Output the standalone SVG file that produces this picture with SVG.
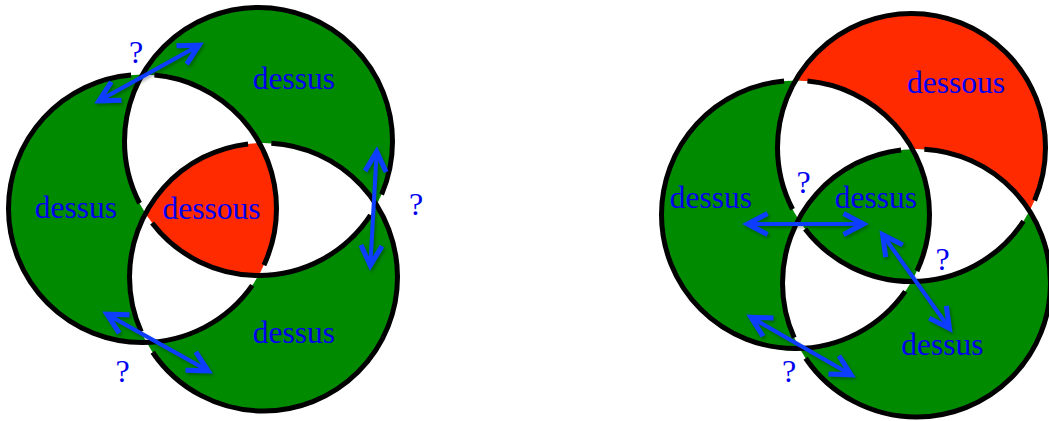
<svg xmlns="http://www.w3.org/2000/svg" xmlns:xlink="http://www.w3.org/1999/xlink" width="1049" height="421" viewBox="0 0 1049 421">
<style>
.g{fill:#008a00}
.r{fill:#ff2a00}
.w{fill:#ffffff}
.ring{fill:none;stroke:#000;stroke-width:5}
.rL{stroke-dasharray:58.47 23.39 537.91 23.39 200}
.rT{stroke-dasharray:54.45 23.39 255.44 23.39 487}
.rB{stroke-dasharray:340.92 23.39 251.39 23.39 204}
.lbl{font-family:"Liberation Serif","Times New Roman",serif;font-size:31.5px;fill:#0000f0;text-anchor:middle}
.q{font-family:"Liberation Serif","Times New Roman",serif;font-size:32px;fill:#0000f0;text-anchor:middle}
.arr{fill:none;stroke:#0a3cff;stroke-width:4;marker-start:url(#ah);marker-end:url(#ah)}
</style>
<defs>
<circle id="cL" cx="142.5" cy="208.5" r="134"/>
<circle id="cT" cx="258.5" cy="141.5" r="134"/>
<circle id="cB" cx="263.5" cy="277" r="134"/>
<clipPath id="clipL"><use xlink:href="#cL"/></clipPath>
<clipPath id="clipT"><use xlink:href="#cT"/></clipPath>
<clipPath id="clipB"><use xlink:href="#cB"/></clipPath>
<marker id="ah" markerUnits="userSpaceOnUse" orient="auto-start-reverse" overflow="visible" markerWidth="1" markerHeight="1" refX="0" refY="0">
<path d="M-20,-10.5 L0,0 L-20,10.5" fill="none" stroke="#0a3cff" stroke-width="5" stroke-linejoin="miter"/>
</marker>
<filter id="sh" x="-20%" y="-20%" width="140%" height="140%">
<feDropShadow dx="1.5" dy="2" stdDeviation="1.5" flood-color="#000" flood-opacity="0.3"/>
</filter>
</defs>
<rect width="1049" height="421" fill="#fff"/>

<g id="left-figure">
<g id="left-regions">
<use xlink:href="#cL" class="g"/>
<use xlink:href="#cT" class="g"/>
<use xlink:href="#cB" class="g"/>
<g clip-path="url(#clipL)"><use xlink:href="#cT" class="w"/><use xlink:href="#cB" class="w"/></g>
<g clip-path="url(#clipT)"><use xlink:href="#cB" class="w"/></g>
<g clip-path="url(#clipL)"><g clip-path="url(#clipT)"><use xlink:href="#cB" class="r"/></g></g>
</g>
<g id="left-ring-L"><use xlink:href="#cL" class="ring rL"/></g>
<g id="left-ring-T"><use xlink:href="#cT" class="ring rT"/></g>
<g id="left-ring-B"><use xlink:href="#cB" class="ring rB"/></g>
<g id="left-labels">
<text class="lbl" x="294" y="88.5">dessus</text>
<text class="lbl" x="76" y="217.5">dessus</text>
<text class="lbl" x="211.5" y="218.5">dessous</text>
<text class="lbl" x="294" y="342.5">dessus</text>
<text class="q" x="136" y="63">?</text>
<text class="q" x="416" y="215">?</text>
<text class="q" x="122.5" y="382">?</text>
</g>
</g>

<g id="right-figure" transform="translate(653,6)">
<g id="right-regions">
<use xlink:href="#cT" class="r"/>
<use xlink:href="#cL" class="g"/>
<use xlink:href="#cB" class="g"/>
<g clip-path="url(#clipL)"><use xlink:href="#cT" class="w"/><use xlink:href="#cB" class="w"/></g>
<g clip-path="url(#clipT)"><use xlink:href="#cB" class="w"/></g>
<g clip-path="url(#clipL)"><g clip-path="url(#clipT)"><use xlink:href="#cB" class="g"/></g></g>
</g>
<g id="right-ring-L"><use xlink:href="#cL" class="ring rL"/></g>
<g id="right-ring-T"><use xlink:href="#cT" class="ring rT"/></g>
<g id="right-ring-B"><use xlink:href="#cB" class="ring rB"/></g>
</g>

<g id="right-labels">
<text class="lbl" x="956" y="92.5">dessous</text>
<text class="lbl" x="711" y="208">dessus</text>
<text class="lbl" x="876" y="208">dessus</text>
<text class="lbl" x="942.5" y="355">dessus</text>
<text class="q" x="803.5" y="193">?</text>
<text class="q" x="942.5" y="270">?</text>
<text class="q" x="789" y="382">?</text>
</g>

<g id="connectors" filter="url(#sh)">
<path class="arr" d="M98.9,100.8 L199.1,45.2"/>
<path class="arr" d="M376.7,151.5 L370.3,265.5"/>
<path class="arr" d="M106.9,314.2 L208.1,370.8"/>
<path class="arr" d="M747.5,224 L863.5,224"/>
<path class="arr" d="M882.6,234.7 L949.4,328.3"/>
<path class="arr" d="M750.9,317.2 L851.1,374.8"/>
</g>
</svg>
